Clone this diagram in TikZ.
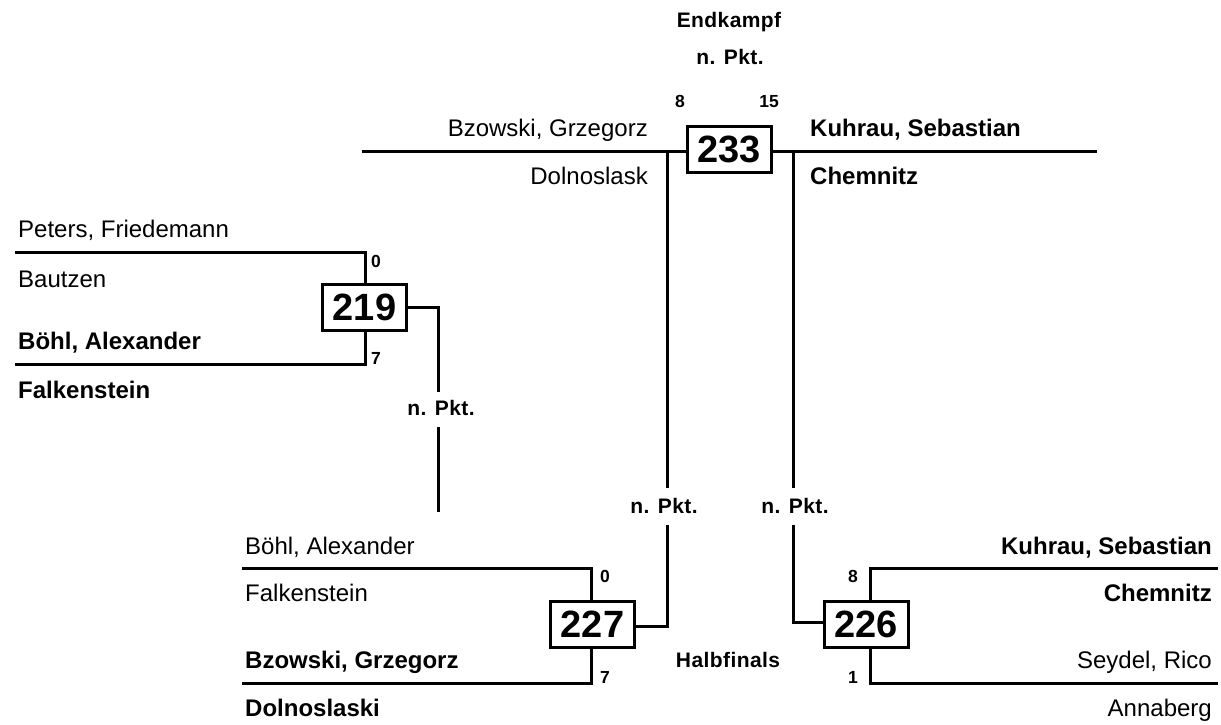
\documentclass[tikz,border=0pt]{standalone}
\usepackage{fontspec}
\setmainfont{Liberation Sans}
\begin{document}
\begin{tikzpicture}[x=1pt,y=-1pt,
  nm/.style={font=\fontsize{24}{28}\selectfont, inner sep=0},
  bnm/.style={font=\fontsize{24}{28}\selectfont\bfseries, inner sep=0},
  score/.style={font=\fontsize{17.5}{20}\selectfont\bfseries, inner sep=0},
  lbl/.style={font=\fontsize{21}{24}\selectfont\bfseries\addfontfeature{LetterSpace=2}, inner sep=0, anchor=base},
  numbox/.style={draw, line width=3pt, minimum width=84pt, minimum height=46pt, inner sep=0,
                 font=\fontsize{38}{40}\selectfont\bfseries},
  ln/.style={line width=3pt}]
\useasboundingbox (0,0) rectangle (1221,724);

% ---------- final ----------
\node[lbl] (endk) at (729,27) {Endkampf};
\node[lbl] (fpkt) at (730,64) {n. Pkt.};
\node[score, anchor=base] (fs1) at (680,107) {8};
\node[score, anchor=base] (fs2) at (769,107) {15};
\node[numbox, fill=white] (b233) at (729,149) {233};
\coordinate (tl) at (362,151);
\coordinate (tr) at (1097,151);
\draw[ln] (tl) -- (b233.west |- tl);
\draw[ln] (b233.east |- tr) -- (tr);
\node[nm, anchor=base east] (n233a) at (648,136) {Bzowski, Grzegorz};
\node[nm, anchor=base east] (c233a) at (648,184) {Dolnoslask};
\node[bnm, anchor=base west] (n233b) at (810,136) {Kuhrau, Sebastian};
\node[bnm, anchor=base west] (c233b) at (810,184) {Chemnitz};

% ---------- 219 ----------
\node[numbox] (b219) at (364.5,307.5) {219};
\coordinate (a1) at (15,252);
\coordinate (a2) at (365,252);
\coordinate (a3) at (15,364);
\coordinate (a4) at (365,364);
\draw[ln] (a1) -- (a2) -- (b219.north -| a2);
\draw[ln] (a3) -- (a4) -- (b219.south -| a4);
\node[nm, anchor=base west] (n219a) at (18,237) {Peters, Friedemann};
\node[nm, anchor=base west] (c219a) at (18,287) {Bautzen};
\node[bnm, anchor=base west] (n219b) at (18,349) {Böhl, Alexander};
\node[bnm, anchor=base west] (c219b) at (18,398) {Falkenstein};
\node[score, anchor=base west] (s219a) at (371,267) {0};
\node[score, anchor=base west] (s219b) at (371,364) {7};
\node[lbl] (p219) at (441,415) {n. Pkt.};
\coordinate (c219) at (438,307.5);
\coordinate (m219) at (438,392);
\coordinate (r219) at (438,427);
\coordinate (e219) at (438,512);
\draw[ln] (b219.east) -- (c219) -- (m219);
\draw[ln] (r219) -- (e219);

% ---------- 227 ----------
\node[numbox] (b227) at (592.5,624.5) {227};
\coordinate (d1) at (242,568);
\coordinate (d2) at (591,568);
\coordinate (d3) at (242,683);
\coordinate (d4) at (591,683);
\draw[ln] (d1) -- (d2) -- (b227.north -| d2);
\draw[ln] (d3) -- (d4) -- (b227.south -| d4);
\node[nm, anchor=base west] (n227a) at (245,554) {Böhl, Alexander};
\node[nm, anchor=base west] (c227a) at (245,601) {Falkenstein};
\node[bnm, anchor=base west] (n227b) at (245,668) {Bzowski, Grzegorz};
\node[bnm, anchor=base west] (c227b) at (245,716) {Dolnoslaski};
\node[score, anchor=base west] (s227a) at (600,582) {0};
\node[score, anchor=base west] (s227b) at (600,683) {7};
\node[lbl] (p227) at (664,513) {n. Pkt.};
\coordinate (g1) at (667,151);
\coordinate (g2) at (667,488);
\coordinate (g3) at (667,525);
\coordinate (g4) at (667,626);
\draw[ln] (g1) -- (g2);
\draw[ln] (g3) -- (g4) -- (g4 -| b227.east);

% ---------- 226 ----------
\node[numbox] (b226) at (866,624.5) {226};
\coordinate (h1) at (1218,568);
\coordinate (h2) at (870,568);
\coordinate (h3) at (1218,683);
\coordinate (h4) at (870,683);
\draw[ln] (h1) -- (h2) -- (b226.north -| h2);
\draw[ln] (h3) -- (h4) -- (b226.south -| h4);
\node[bnm, anchor=base east] (n226a) at (1212,554) {Kuhrau, Sebastian};
\node[bnm, anchor=base east] (c226a) at (1212,601) {Chemnitz};
\node[nm, anchor=base east] (n226b) at (1212,668) {Seydel, Rico};
\node[nm, anchor=base east] (c226b) at (1212,716) {Annaberg};
\node[score, anchor=base east] (s226a) at (858,582) {8};
\node[score, anchor=base east] (s226b) at (858,683) {1};
\node[lbl] (p226) at (795,513) {n. Pkt.};
\coordinate (k1) at (793,151);
\coordinate (k2) at (793,488);
\coordinate (k3) at (793,525);
\coordinate (k4) at (793,622);
\draw[ln] (k1) -- (k2);
\draw[ln] (k3) -- (k4) -- (k4 -| b226.west);

\node[lbl] (halb) at (728,667) {Halbfinals};
\end{tikzpicture}
\end{document}
